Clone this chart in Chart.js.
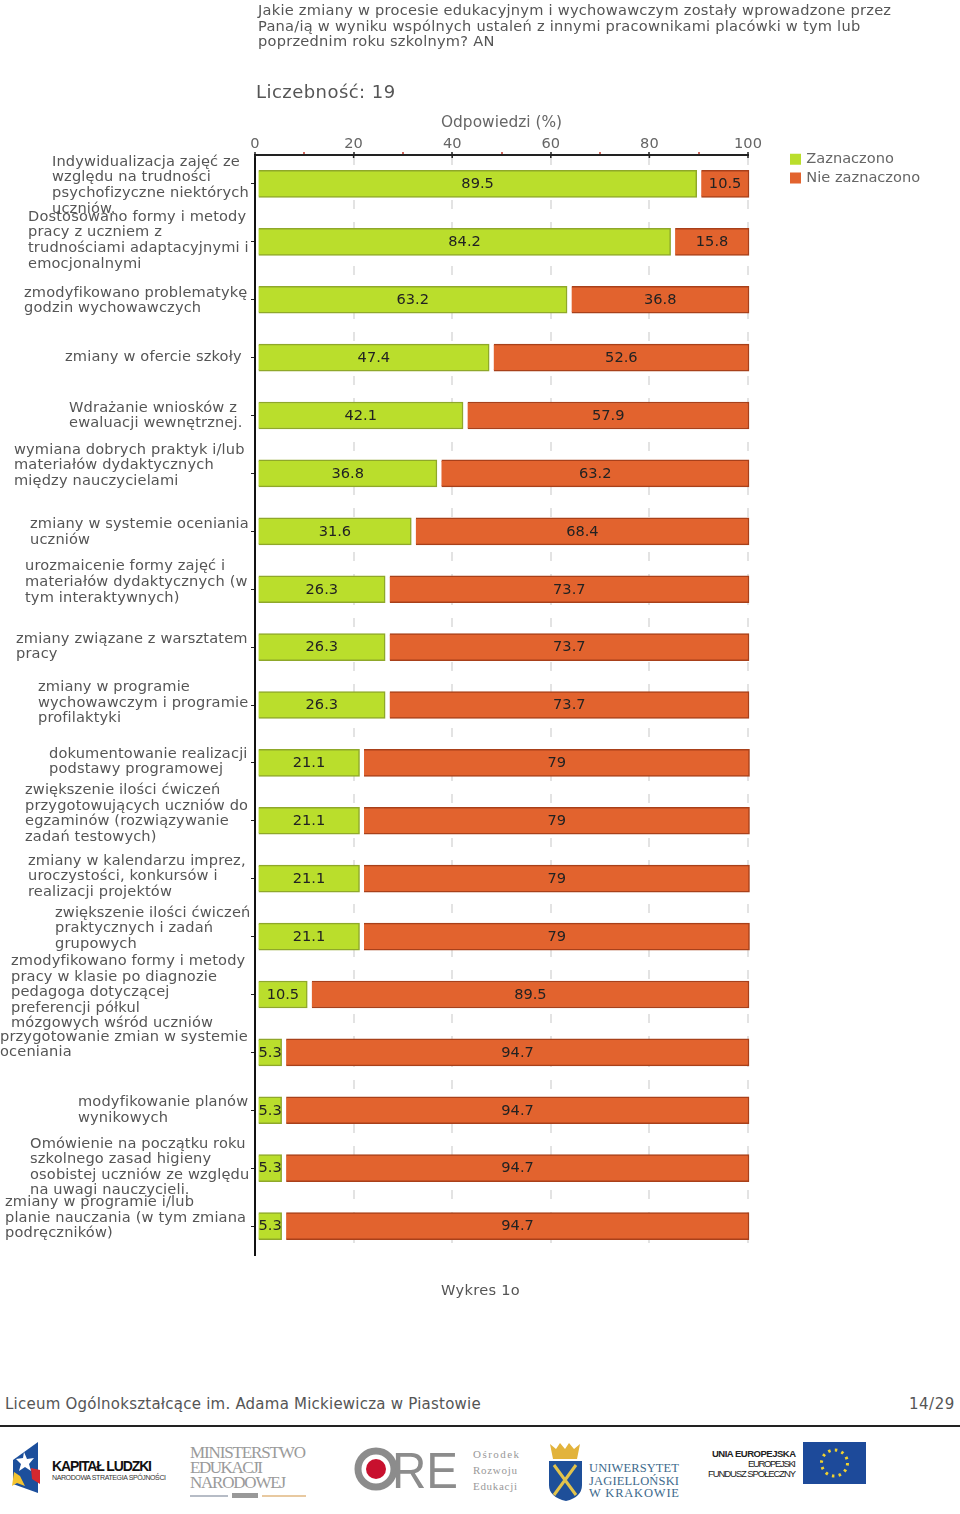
<!DOCTYPE html>
<html lang="pl"><head><meta charset="utf-8">
<script src="https://cdn.jsdelivr.net/npm/chart.js@4"></script>
<style>
html,body{margin:0;padding:0;background:#fff;width:960px;height:1514px;overflow:hidden}
body{position:relative;font-family:"DejaVu Sans",sans-serif;color:#555}
canvas{position:absolute;left:0;top:0}
.t{position:absolute;white-space:pre;line-height:1}
svg{position:absolute;left:0;top:1430px}
</style></head><body>
<canvas id="c" width="960" height="1300"></canvas>
<div class="t" style="left:258px;top:3px;font-size:14.6px;letter-spacing:.25px">Jakie zmiany w procesie edukacyjnym i wychowawczym zostały wprowadzone przez</div>
<div class="t" style="left:258px;top:19px;font-size:14.6px;letter-spacing:.25px">Pana/ią w wyniku wspólnych ustaleń z innymi pracownikami placówki w tym lub</div>
<div class="t" style="left:258px;top:34px;font-size:14.6px;letter-spacing:.25px">poprzednim roku szkolnym? AN</div>
<div class="t" style="left:256px;top:83px;font-size:18px;letter-spacing:.45px">Liczebność: 19</div>
<div class="t" style="left:441px;top:1283px;font-size:14.6px;letter-spacing:.3px">Wykres 1o</div>
<div class="t" style="left:5px;top:1397px;font-size:15px;letter-spacing:.23px">Liceum Ogólnokształcące im. Adama Mickiewicza w Piastowie</div>
<div class="t" style="left:909px;top:1397px;font-size:15px;letter-spacing:.5px">14/29</div>
<div style="position:absolute;left:0;top:1425px;width:960px;height:2px;background:#222"></div>
<svg width="960" height="84" viewBox="0 1430 960 84">
 <path d="M13 1460 L38 1442 V1493 L13 1484Z" fill="#1c4f9c"/>
 <path d="M24 1452l3 7 7-1-5 6 2 7-6-4-6 4 2-7-5-5 7-1z" fill="#fff"/>
 <path d="M31 1468l9 2v14l-8-5z" fill="#d5282f"/>
 <path d="M14 1472l6 4 5 10-8-3-5 3z" fill="#f4c430"/>
 <text x="52" y="1471" font-family="Liberation Sans Narrow,Liberation Sans" font-weight="700" font-size="14" fill="#111" textLength="100">KAPITAŁ LUDZKI</text>
 <text x="52" y="1480" font-family="Liberation Sans" font-size="7" fill="#333" textLength="114">NARODOWA STRATEGIA SPÓJNOŚCI</text>
 <g font-family="Liberation Serif" font-size="17" fill="#9a9a9a">
  <text x="190" y="1458" textLength="116">MINISTERSTWO</text>
  <text x="190" y="1473" textLength="73">EDUKACJI</text>
  <text x="190" y="1488" textLength="96">NARODOWEJ</text>
 </g>
 <path d="M190 1496H228" stroke="#b6bcc6" stroke-width="2"/><path d="M262 1496H306" stroke="#e8c9a0" stroke-width="2"/>
 <rect x="232" y="1493" width="26" height="5" fill="#999"/>
 <circle cx="376" cy="1469" r="18" fill="none" stroke="#8c8c8c" stroke-width="7"/>
 <circle cx="376" cy="1469" r="10" fill="#c8102e"/>
 <text x="392" y="1488" font-family="Liberation Sans" font-size="50" fill="#8c8c8c" textLength="66" lengthAdjust="spacingAndGlyphs">RE</text>
 <g font-family="Liberation Serif" font-size="11" fill="#999">
  <text x="473" y="1458" textLength="46">Ośrodek</text>
  <text x="473" y="1474" textLength="44">Rozwoju</text>
  <text x="473" y="1490" textLength="44">Edukacji</text>
 </g>
 <path d="M550 1444l6 5 4-6 5 6 4-6 5 6 6-5-3 15h-24z" fill="#e2b33c"/>
 <path d="M549 1461h33v24q0 12-16 16q-17-4-17-16z" fill="#1e4f99"/>
 <path d="M554 1465l22 30M576 1465l-22 30" stroke="#e2c34c" stroke-width="3"/>
 <g font-family="Liberation Serif" font-size="12.5" fill="#3d6a8c">
  <text x="589" y="1472" textLength="90">UNIWERSYTET</text>
  <text x="589" y="1485" textLength="90">JAGIELLOŃSKI</text>
  <text x="589" y="1497" textLength="90">W KRAKOWIE</text>
 </g>
 <g font-family="Liberation Sans Narrow,Liberation Sans" font-size="9.5" fill="#222" text-anchor="end">
  <text x="796" y="1457" font-weight="700" textLength="84">UNIA EUROPEJSKA</text>
  <text x="796" y="1467" textLength="48">EUROPEJSKI</text>
  <text x="796" y="1477" textLength="88">FUNDUSZ SPOŁECZNY</text>
 </g>
 <rect x="803" y="1442" width="63" height="42" fill="#1d4a9a"/>
 <circle cx="834.5" cy="1463" r="13" fill="none" stroke="#f2d22e" stroke-width="3" stroke-dasharray="2.5 4.3"/>
</svg>
<script>
const categories = [
 ["Indywidualizacja zajęć ze","względu na trudności","psychofizyczne niektórych","uczniów."],
 ["Dostosowano formy i metody","pracy z uczniem z","trudnościami adaptacyjnymi i","emocjonalnymi"],
 ["zmodyfikowano problematykę","godzin wychowawczych"],
 ["zmiany w ofercie szkoły"],
 ["Wdrażanie wniosków z","ewaluacji wewnętrznej."],
 ["wymiana dobrych praktyk i/lub","materiałów dydaktycznych","między nauczycielami"],
 ["zmiany w systemie oceniania","uczniów"],
 ["urozmaicenie formy zajęć i","materiałów dydaktycznych (w","tym interaktywnych)"],
 ["zmiany związane z warsztatem","pracy"],
 ["zmiany w programie","wychowawczym i programie","profilaktyki"],
 ["dokumentowanie realizacji","podstawy programowej"],
 ["zwiększenie ilości ćwiczeń","przygotowujących uczniów do","egzaminów (rozwiązywanie","zadań testowych)"],
 ["zmiany w kalendarzu imprez,","uroczystości, konkursów i","realizacji projektów"],
 ["zwiększenie ilości ćwiczeń","praktycznych i zadań","grupowych"],
 ["zmodyfikowano formy i metody","pracy w klasie po diagnozie","pedagoga dotyczącej","preferencji półkul","mózgowych wśród uczniów"],
 ["przygotowanie zmian w systemie","oceniania"],
 ["modyfikowanie planów","wynikowych"],
 ["Omówienie na początku roku","szkolnego zasad higieny","osobistej uczniów ze względu","na uwagi nauczycieli."],
 ["zmiany w programie i/lub","planie nauczania (w tym zmiana","podręczników)"]
];
const zaznaczono = [89.5,84.2,63.2,47.4,42.1,36.8,31.6,26.3,26.3,26.3,21.1,21.1,21.1,21.1,10.5,5.3,5.3,5.3,5.3];
const nieZaznaczono = [10.5,15.8,36.8,52.6,57.9,63.2,68.4,73.7,73.7,73.7,79,79,79,79,89.5,94.7,94.7,94.7,94.7];

// layout of the wrapped category labels (left edge and vertical shift of each block)
const labelLeft = [52,28,24,65,69,14,30,25,16,38,49,25,28,55,11,0,78,30,5];
const labelShift = [1.5,-1.5,1,0,0,-8,1,-7,-0.5,-2,-1,-7,-2,-8,-2,-7.5,0,-1,-8];
const FONT = '"DejaVu Sans", sans-serif';

const barGaps = {
  id:'barGaps',
  afterDatasetsUpdate(chart){
    chart.getDatasetMeta(0).data.forEach(b=>{b.base+=2.5;b.x+=0.5;});
    chart.getDatasetMeta(1).data.forEach(b=>{b.base+=5;b.x+=1;});
  }
};
const moveLegend = {
  id:'moveLegend',
  afterLayout(chart){
    const l=chart.legend, w=l.width, h=l.height;
    l.left=788; l.right=788+w; l.top=148; l.bottom=148+h;
  }
};
const drawText = {
  id:'drawText',
  afterDatasetsDraw(chart){
    const ctx=chart.ctx, y=chart.scales.y, x=chart.scales.x;
    ctx.save();
    // major ticks reach slightly below the top axis
    ctx.strokeStyle='#222'; ctx.lineWidth=1.5;
    x.ticks.forEach(t=>{ if(t.value%20===0){const p=x.getPixelForValue(t.value);
      ctx.beginPath();ctx.moveTo(p,x.bottom);ctx.lineTo(p,x.bottom+3);ctx.stroke();}});
    // category labels
    ctx.font='14.6px '+FONT; ctx.letterSpacing='0.15px'; ctx.fillStyle='#555'; ctx.textAlign='left'; ctx.textBaseline='middle';
    categories.forEach((lines,i)=>{
      const c=y.getPixelForValue(i)+labelShift[i], h=15.6;
      lines.forEach((s,k)=>ctx.fillText(s,labelLeft[i],c+(k-(lines.length-1)/2)*h));
    });
    // value labels
    ctx.font='14.6px '+FONT; ctx.letterSpacing='0px'; ctx.fillStyle='#222'; ctx.textAlign='center';
    chart.data.datasets.forEach((ds,d)=>{
      chart.getDatasetMeta(d).data.forEach((b,i)=>{
        const p=b.getCenterPoint(); ctx.fillText(String(ds.data[i]),p.x,p.y+0.5);
      });
    });
    ctx.restore();
  }
};
new Chart(document.getElementById('c'),{
  type:'bar',
  data:{labels:categories.map(l=>l.join(' ')),datasets:[
    {label:'Zaznaczono',data:zaznaczono,backgroundColor:'#bade2c',borderColor:'#8fa82a',borderWidth:1.5,barThickness:27,clip:false},
    {label:'Nie zaznaczono',data:nieZaznaczono,backgroundColor:'#e2632e',borderColor:'#a8401a',borderWidth:1.5,barThickness:27,clip:false}
  ]},
  plugins:[barGaps,moveLegend,drawText],
  options:{
    indexAxis:'y',responsive:false,animation:false,
    layout:{padding:{left:255,right:212,top:0,bottom:45}},
    plugins:{
      tooltip:{enabled:false},
      legend:{position:'chartArea',align:'start',
        labels:{usePointStyle:true,pointStyle:'rect',boxWidth:7,boxHeight:11,padding:4,color:'#666',font:{family:FONT,size:14.6},
          generateLabels(chart){
            return Chart.defaults.plugins.legend.labels.generateLabels(chart).map(l=>({...l,lineWidth:0,strokeStyle:'rgba(0,0,0,0)'}));
          }}}
    },
    scales:{
      x:{position:'top',stacked:true,min:0,max:100,
        afterFit(s){s.height=155;s.paddingLeft=0;s.paddingRight=0;},
        title:{display:true,text:'Odpowiedzi (%)',color:'#666',font:{family:FONT,size:15.4},padding:{top:114,bottom:0}},
        ticks:{stepSize:10,autoSkip:false,maxRotation:0,padding:-1,color:'#666',font:{family:FONT,size:14.6},
          callback:v=>v%20===0?String(v):''},
        grid:{tickLength:3,color:c=>c.tick&&c.tick.value%20===0&&c.tick.value>0?'#e3e3e3':'rgba(0,0,0,0)',lineWidth:2,
          tickColor:c=>c.tick&&c.tick.value%20===0?'#222':'#c0392b',tickWidth:1.5},
        border:{display:true,color:'#222',width:2,dash:[9,13]}
      },
      y:{stacked:true,
        afterFit(s){s.width=0;},
        ticks:{display:false},
        grid:{offset:false,drawOnChartArea:false,tickLength:4,tickColor:'#222',tickWidth:1},
        border:{display:true,color:'#111',width:2}
      }
    }
  }
});
</script>
</body></html>
